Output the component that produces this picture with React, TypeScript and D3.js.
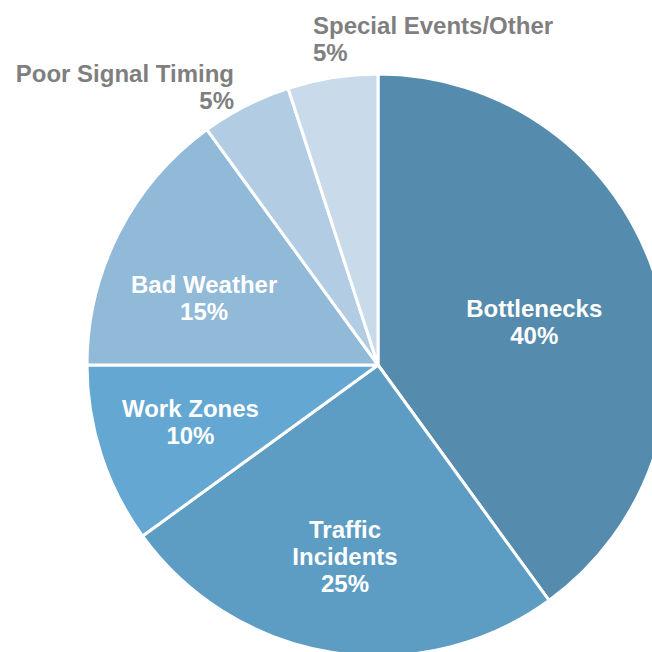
import React from "react";
import * as d3 from "d3";

const categories = ["Bottlenecks", "Traffic Incidents", "Work Zones", "Bad Weather", "Poor Signal Timing", "Special Events/Other"];
const values = [40, 25, 10, 15, 5, 5];
const colors = ["#558BAD", "#5D9DC3", "#64A7D2", "#91B9D8", "#B2CDE3", "#C9DBEA"];
const labelLines = [["Bottlenecks", "40%"], ["Traffic", "Incidents", "25%"], ["Work Zones", "10%"], ["Bad Weather", "15%"], ["Poor Signal Timing", "5%"], ["Special Events/Other", "5%"]];
// label placement inside slices: radius fraction and angle offset (degrees)
const labelRadius = [0.557, 0.667, 0.674, 0.64];
const labelAngleOffset = [2.6, 0.8, 1, -6];

const W = 652, H = 652;
const cx = 378, cy = 365, R = 291;

export default function App() {
  const data = categories.map((c, i) => ({ c, v: values[i], i }));
  const pie = d3.pie<any>().value((d) => d.v).sort(null);
  const arcs = pie(data);
  const arc = d3.arc<any>().innerRadius(0).outerRadius(R);
  const fontFamily = "'Liberation Sans', Arial, sans-serif";
  const lh = 27;
  const fs = 24;
  return (
    <svg width={W} height={H} style={{ position: "absolute", left: 0, top: 0, background: "#fff" }}>
      <g transform={`translate(${cx},${cy})`}>
        {arcs.map((a, i) => (
          <path key={i} d={arc(a) || ""} fill={colors[i]} stroke="#fff" strokeWidth={3} strokeLinejoin="round" />
        ))}
        {arcs.map((a, i) => {
          if (i >= 4) return null;
          const mid = (a.startAngle + a.endAngle) / 2 + (labelAngleOffset[i] * Math.PI) / 180;
          const r = R * labelRadius[i];
          const x = r * Math.sin(mid);
          const y = -r * Math.cos(mid);
          const lines = labelLines[i];
          const y0 = y - ((lines.length - 1) * lh) / 2 + fs * 0.36;
          return (
            <text key={"t" + i} textAnchor="middle" fill="#fff" fontFamily={fontFamily} fontWeight="bold" fontSize={fs}>
              {lines.map((l, k) => (
                <tspan key={k} x={x} y={y0 + k * lh}>{l}</tspan>
              ))}
            </text>
          );
        })}
      </g>
      <text fill="#7F7F7F" fontFamily={fontFamily} fontWeight="bold" fontSize={fs} textAnchor="end">
        <tspan x={234} y={82}>{labelLines[4][0]}</tspan>
        <tspan x={234} y={109}>{labelLines[4][1]}</tspan>
      </text>
      <text fill="#7F7F7F" fontFamily={fontFamily} fontWeight="bold" fontSize={fs} textAnchor="start">
        <tspan x={313} y={34}>{labelLines[5][0]}</tspan>
        <tspan x={313} y={61}>{labelLines[5][1]}</tspan>
      </text>
    </svg>
  );
}
